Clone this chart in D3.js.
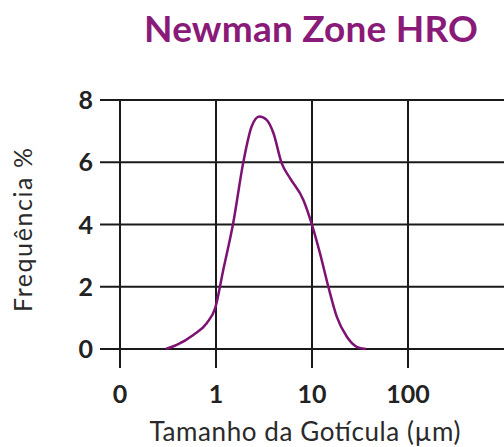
<!DOCTYPE html>
<html>
<head>
<meta charset="utf-8">
<script src="https://cdn.jsdelivr.net/npm/d3@7"></script>
<style>
  body { margin: 0; background: #fff; }
</style>
</head>
<body>
<div id="chart"></div>
<script>
const width = 504,
    height = 447

// droplet size (µm) and frequency (%)
const sizes = [0.30, 0.39, 0.58, 0.80, 0.98, 1.19, 1.51, 1.93, 2.35, 2.83, 3.37, 3.96, 4.83, 5.90, 8.13, 10, 12.1, 14.8, 18.1, 23.0, 29.2, 36.5]
const freqs = [0.0, 0.13, 0.45, 0.83, 1.31, 2.54, 4.04, 6.02, 7.15, 7.47, 7.36, 6.94, 5.97, 5.49, 4.79, 3.99, 3.08, 2.0, 1.04, 0.40, 0.07, 0.0]

const xTicks = [0.1, 1, 10, 100]
const xTickLabels = ['0', '1', '10', '100']
const yTicks = [0, 2, 4, 6, 8]

const svg = d3.select('#chart')
  .append('svg')
    .attr('width', width)
    .attr('height', height)
    .style('font-family', 'Lato, sans-serif')

const x = d3.scaleLog().domain([0.1, 1000]).range([120, 504])
const y = d3.scaleLinear().domain([0, 8]).range([349, 100])

// horizontal grid
svg.selectAll('.hgrid')
  .data(yTicks)
  .join('line')
  .attr('x1', 100).attr('x2', width)
  .attr('y1', d => y(d)).attr('y2', d => y(d))
  .attr('stroke', '#1a1a1a')
  .attr('stroke-width', 2)

// vertical grid
svg.selectAll('.vgrid')
  .data(xTicks)
  .join('line')
  .attr('x1', d => x(d)).attr('x2', d => x(d))
  .attr('y1', y(8)).attr('y2', 368)
  .attr('stroke', '#1a1a1a')
  .attr('stroke-width', 2)

// y tick labels
svg.selectAll('.ylab')
  .data(yTicks)
  .join('text')
  .text(d => d)
  .attr('x', 93)
  .attr('y', d => y(d) + 9)
  .style('text-anchor', 'end')
  .style('font-weight', 'bold')
  .style('font-size', '25px')
  .style('fill', '#222')

// x tick labels
svg.selectAll('.xlab')
  .data(xTicks)
  .join('text')
  .text((d, i) => xTickLabels[i])
  .attr('x', d => x(d))
  .attr('y', 403)
  .style('text-anchor', 'middle')
  .style('font-weight', 'bold')
  .style('font-size', '25px')
  .style('fill', '#222')

// the curve
const line = d3.line()
  .x((d, i) => x(sizes[i]))
  .y(d => y(d))
  .curve(d3.curveMonotoneX)

svg.append('path')
  .datum(freqs)
  .attr('d', line)
  .attr('fill', 'none')
  .attr('stroke', '#7d1273')
  .attr('stroke-width', 2.5)

// title
svg.append('text')
  .text('Newman Zone HRO')
  .attr('x', 478)
  .attr('y', 42)
  .style('text-anchor', 'end')
  .style('font-weight', 'bold')
  .style('font-size', '37px')
  .attr('textLength', 334)
  .style('fill', '#8a1a78')

// axis titles
svg.append('text')
  .text('Tamanho da Gotícula (µm)')
  .attr('x', 305)
  .attr('y', 441)
  .style('text-anchor', 'middle')
  .style('font-size', '26px')
  .attr('textLength', 311)
  .style('fill', '#2a2a2a')

svg.append('text')
  .text('Frequência %')
  .attr('transform', 'translate(32, 230) rotate(-90)')
  .style('text-anchor', 'middle')
  .style('font-size', '25px')
  .attr('textLength', 164)
  .style('fill', '#2a2a2a')
</script>
</body>
</html>
